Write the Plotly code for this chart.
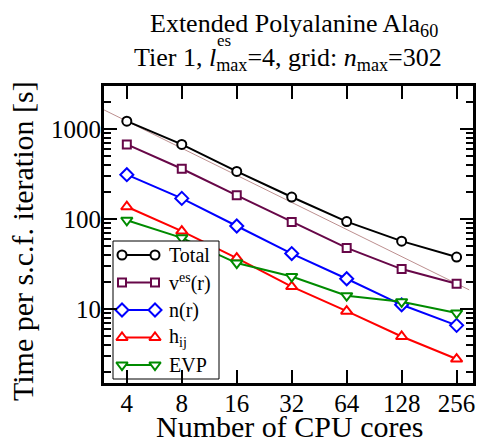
import plotly.graph_objects as go

# ---------------- data ----------------
cores = [4, 8, 16, 32, 64, 128, 256]
tick_labels = ["4", "8", "16", "32", "64", "128", "256"]
total = [1220, 673, 337, 175, 93.3, 56.6, 37.7]
v_es = [673, 361, 183, 92.5, 47.6, 27.7, 19.0]
n_r = [310, 169, 83.4, 41.2, 21.6, 11.1, 6.56]
h_ij = [136.5, 73.3, 36.7, 17.7, 9.42, 4.93, 2.77]
evp = [96.6, 61.6, 32.3, 22.9, 14.0, 12.0, 9.0]
ideal_cores = [3, 300]
ideal_time = [total[0] * cores[0] / p for p in ideal_cores]
y_major = [10, 100, 1000]
y_major_labels = ["10", "100", "1000"]
y_minor = [2, 3, 4, 5, 6, 7, 8, 9, 20, 30, 40, 50, 60, 70, 80, 90,
           200, 300, 400, 500, 600, 700, 800, 900, 2000, 3000]

series = [
    ("Total", total, "#000000", "circle", 9),
    ("v<sup>es</sup>(r)", v_es, "#670748", "square", 8),
    ("n(r)", n_r, "#0000ff", "diamond", 10),
    ("h<sub>ij</sub>", h_ij, "#ff0000", "triangle-up", 10),
    ("EVP", evp, "#008b00", "triangle-down", 10),
]

FONT = "Liberation Serif"
W, H = 477, 438
L, R, T, B = 104, 4, 86, 55
PW, PH = W - L - R, H - T - B


def px(xp):
    return (xp - L) / PW


def py(yp):
    return (H - B - yp) / PH


fig = go.Figure()

fig.add_trace(go.Scatter(x=ideal_cores, y=ideal_time, mode="lines",
                         line=dict(color="#bc8f8f", width=1),
                         showlegend=False, hoverinfo="skip"))

for name, vals, col, sym, size in series:
    fig.add_trace(go.Scatter(
        x=cores, y=vals, mode="lines+markers", name=name,
        line=dict(color=col, width=2),
        marker=dict(symbol=sym, size=size, color="white",
                    line=dict(color=col, width=2)),
        showlegend=False))

# ---- custom legend (on overlay axes with range [0,1]) ----
lx0, lx1, ly0, ly1 = px(113), px(219), py(379), py(241)
fig.add_trace(go.Scatter(x=[lx0, lx1, lx1, lx0, lx0], y=[ly0, ly0, ly1, ly1, ly0],
                         mode="lines", fill="toself", fillcolor="white",
                         line=dict(color="black", width=1),
                         xaxis="x2", yaxis="y2", showlegend=False, hoverinfo="skip"))
row_y = [255, 282.5, 310, 337.5, 365]
for (name, vals, col, sym, size), ry in zip(series, row_y):
    fig.add_trace(go.Scatter(
        x=[px(122), px(155)], y=[py(ry), py(ry)], mode="lines+markers",
        line=dict(color=col, width=2),
        marker=dict(symbol=sym, size=size, color="white",
                    line=dict(color=col, width=2)),
        xaxis="x2", yaxis="y2", showlegend=False, hoverinfo="skip"))
    fig.add_annotation(x=px(167), y=py(ry), xref="paper", yref="paper",
                       text=name, showarrow=False, xanchor="left", yanchor="middle",
                       font=dict(family=FONT, size=20, color="black"))

# ---- titles ----
fig.add_annotation(x=px(294), y=py(25), xref="paper", yref="paper",
                   text="Extended Polyalanine Ala<sub>60</sub>", showarrow=False,
                   xanchor="center", yanchor="middle",
                   font=dict(family=FONT, size=26, color="black"))
fig.add_annotation(x=px(288), y=py(59), xref="paper", yref="paper",
                   text="Tier 1, <i>l</i><sub>max</sub>=4, grid: <i>n</i><sub>max</sub>=302",
                   showarrow=False, xanchor="center", yanchor="middle",
                   font=dict(family=FONT, size=26, color="black"))
fig.add_annotation(x=px(215), y=py(40), xref="paper", yref="paper",
                   text="es", showarrow=False, xanchor="left", yanchor="middle",
                   font=dict(family=FONT, size=17, color="black"))
fig.add_annotation(x=px(289), y=py(426), xref="paper", yref="paper",
                   text="Number of CPU cores", showarrow=False,
                   xanchor="center", yanchor="middle",
                   font=dict(family=FONT, size=30, color="black"))
fig.add_annotation(x=px(22), y=py(241), xref="paper", yref="paper",
                   text="Time per s.c.f. iteration [s]", showarrow=False, textangle=-90,
                   xanchor="center", yanchor="middle",
                   font=dict(family=FONT, size=30, color="black"))

fig.update_layout(
    width=W, height=H,
    margin=dict(l=L, r=R, t=T, b=B, pad=0, autoexpand=False),
    paper_bgcolor="white", plot_bgcolor="white",
    showlegend=False,
    font=dict(family=FONT, color="black"),
    xaxis=dict(type="log", range=[0.4771, 2.498],
               tickmode="array", tickvals=cores, ticktext=tick_labels,
               ticks="inside", ticklen=13, tickwidth=2, tickcolor="black",
               showline=True, linewidth=3, linecolor="black", mirror="ticks",
               showgrid=False, zeroline=False, automargin=False,
               ticklabelstandoff=-4,
               tickfont=dict(family=FONT, size=25, color="black")),
    yaxis=dict(type="log", range=[0.1761, 3.4771],
               tickmode="array", tickvals=y_major, ticktext=y_major_labels,
               ticks="inside", ticklen=13, tickwidth=2, tickcolor="black",
               minor=dict(tickmode="array", tickvals=y_minor, ticks="inside",
                          ticklen=7, tickwidth=2, tickcolor="black", showgrid=False),
               showline=True, linewidth=3, linecolor="black", mirror="ticks",
               showgrid=False, zeroline=False, automargin=False,
               ticklabelstandoff=-5,
               tickfont=dict(family=FONT, size=25, color="black")),
    xaxis2=dict(overlaying="x", range=[0, 1], visible=False, fixedrange=True),
    yaxis2=dict(overlaying="y", range=[0, 1], visible=False, fixedrange=True),
)

fig.write_html("out.html", config={"displayModeBar": False},
               post_script="document.body.style.margin='0';document.body.style.overflow='hidden';")
